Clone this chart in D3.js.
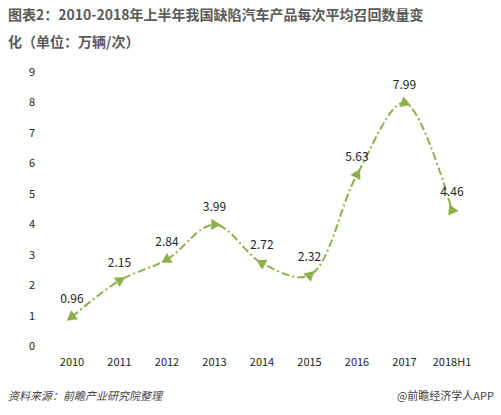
<!DOCTYPE html>
<html><head><meta charset="utf-8">
<script src="https://cdn.jsdelivr.net/npm/d3@7"></script>
<style>body{margin:0;background:#fff}text{font-family:"Microsoft YaHei","Noto Sans CJK SC",sans-serif}</style>
</head><body><svg width="501" height="415"></svg>
<script>
const years = ['2010','2011','2012','2013','2014','2015','2016','2017','2018H1']
const values = [0.96, 2.15, 2.84, 3.99, 2.72, 2.32, 5.63, 7.99, 4.46]
const yTicks = [0,1,2,3,4,5,6,7,8,9]

const svg = d3.select('svg')
const x = d3.scalePoint().domain(years).range([72, 452])
const y = d3.scaleLinear().domain([0, 9]).range([346, 72])
const green = '#8db04b'

svg.append('text').attr('x', 8).attr('y', 20).attr('font-size', 14).attr('font-weight', 'bold').attr('fill', '#5a5a5a')
  .text('图表2：2010-2018年上半年我国缺陷汽车产品每次平均召回数量变')
svg.append('text').attr('x', 8).attr('y', 47).attr('font-size', 14).attr('font-weight', 'bold').attr('fill', '#5a5a5a')
  .text('化（单位：万辆/次）')

svg.selectAll('.yt').data(yTicks).enter().append('text')
  .attr('x', 32).attr('y', d => y(d) + 4).attr('text-anchor', 'middle')
  .attr('font-size', 11).attr('fill', '#222').text(d => d)

svg.selectAll('.xt').data(years).enter().append('text')
  .attr('x', d => x(d)).attr('y', 366).attr('text-anchor', 'middle')
  .attr('font-size', 11).attr('fill', '#222').text(d => d)

const pts = years.map((d, i) => [x(d), y(values[i])])
svg.append('path').attr('d', d3.line().curve(d3.curveCatmullRom)(pts))
  .attr('fill', 'none').attr('stroke', green).attr('stroke-width', 2)
  .attr('stroke-dasharray', '8,3,2,3')

const tri = d3.symbol().type(d3.symbolTriangle).size(55)
pts.forEach((p, i) => {
  const a = pts[Math.max(i - 1, 0)], b = pts[Math.min(i + 1, pts.length - 1)]
  const ang = Math.atan2(b[1] - a[1], b[0] - a[0]) * 180 / Math.PI + 90
  const flip = (i === 0 || i === 2 || i === 4 || i === 8) ? 180 : 0
  svg.append('path').attr('d', tri).attr('fill', green)
    .attr('transform', `translate(${p[0]},${p[1]}) rotate(${ang + flip})`)
})

svg.selectAll('.lbl').data(values).enter().append('text')
  .attr('x', (d, i) => x(years[i])).attr('y', d => y(d) - 14)
  .attr('text-anchor', 'middle').attr('font-size', 12).attr('fill', '#222')
  .text(d => d.toFixed(2))

svg.append('text').attr('x', 8).attr('y', 400).attr('font-size', 11).attr('font-style', 'italic')
  .attr('fill', '#444').text('资料来源：前瞻产业研究院整理')
svg.append('text').attr('x', 494).attr('y', 400).attr('text-anchor', 'end').attr('font-size', 11)
  .attr('fill', '#444').text('@前瞻经济学人APP')
</script></body></html>
